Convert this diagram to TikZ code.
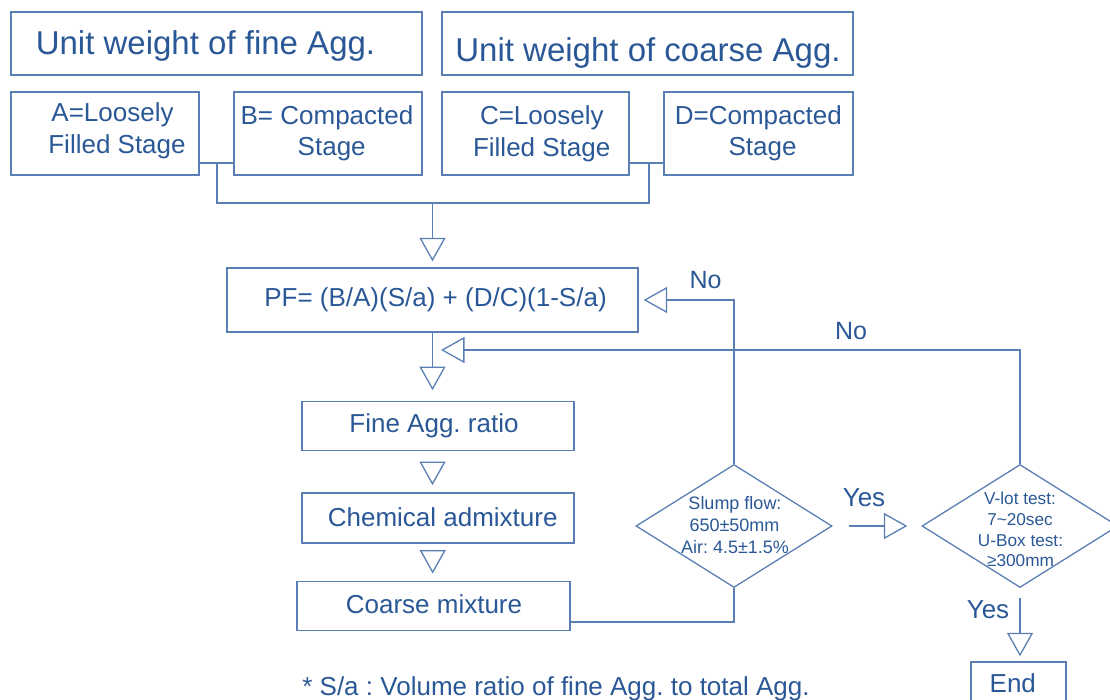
\documentclass[tikz,border=0pt]{standalone}
\usepackage{fontspec}
\setmainfont{Liberation Sans}
\usetikzlibrary{arrows.meta,shapes.geometric}
\definecolor{txtc}{HTML}{2A5896}
\definecolor{linec}{HTML}{5A7FB5}
\frenchspacing
\begin{document}
\begin{tikzpicture}[x=1pt,y=-1pt]
\tikzset{
  box/.style={draw=linec, line width=1.3pt, rectangle, inner sep=0pt},
  dia/.style={draw=linec, line width=1.3pt, diamond, inner sep=0pt, minimum width=196pt, minimum height=123pt},
  ln/.style={draw=linec, line width=1.3pt},
  tri/.style={draw=linec, line width=1.3pt, -{Triangle[open,width=26pt,length=23.5pt]}},
  lbl/.style={anchor=base, text=txtc, inner sep=0pt},
  fH/.style={font=\fontsize{33}{40}\selectfont},
  fM/.style={font=\fontsize{26}{31}\selectfont},
  fL/.style={font=\fontsize{25}{30}\selectfont},
  fS/.style={font=\fontsize{18}{21}\selectfont},
  fT/.style={font=\fontsize{17.2}{20}\selectfont},
}
\path[use as bounding box] (0,0) rectangle (1110,700);
\clip (0,0) rectangle (1110,700);

% header boxes
\node[box, minimum width=411pt, minimum height=63pt] (fineH) at (216.5,43.5) {};
\node[lbl,fH] (fineHt) at (205.5,55) {Unit weight of fine Agg.};
\node[box, minimum width=411pt, minimum height=63pt] (coarseH) at (647.5,43.5) {};
\node[lbl,fH] (coarseHt) at (648,61.5) {Unit weight of coarse Agg.};

% stage boxes
\node[box, minimum width=188pt, minimum height=83pt] (A) at (105,133.5) {};
\node[lbl,fM] (A1) at (112.5,122) {A=Loosely};
\node[lbl,fM] (A2) at (117,153.3) {Filled Stage};
\node[box, minimum width=188pt, minimum height=83pt] (B) at (328,133.5) {};
\node[lbl,fM] (B1) at (327,125) {B= Compacted};
\node[lbl,fM] (B2) at (331.7,156) {Stage};
\node[box, minimum width=187pt, minimum height=83pt] (C) at (535.5,133.5) {};
\node[lbl,fM] (C1) at (541.8,125) {C=Loosely};
\node[lbl,fM] (C2) at (541.7,156.5) {Filled Stage};
\node[box, minimum width=189pt, minimum height=83pt] (D) at (758.5,133.5) {};
\node[lbl,fM] (D1) at (758.3,124.5) {D=Compacted};
\node[lbl,fM] (D2) at (762.5,156) {Stage};

% process boxes
\node[box, minimum width=411pt, minimum height=64pt] (PF) at (432.5,300) {};
\node[lbl,fM] (PFt) at (435.5,307) {PF= (B/A)(S/a) + (D/C)(1-S/a)};
\node[box, minimum width=272pt, minimum height=49pt] (Fine) at (438,426) {};
\node[lbl,fM] (Finet) at (434,432) {Fine Agg. ratio};
\node[box, minimum width=272pt, minimum height=50pt] (Chem) at (438,518) {};
\node[lbl,fM] (Chemt) at (442.7,526.7) {Chemical admixture};
\node[box, minimum width=273pt, minimum height=49pt] (Coarse) at (433.5,606) {};
\node[lbl,fM] (Coarset) at (434,613.3) {Coarse mixture};

% decisions
\node[dia] (S) at (734,526) {};
\node[lbl,fS] (S1) at (735,509) {Slump flow:};
\node[lbl,fS] (S2) at (734.5,531.7) {650±50mm};
\node[lbl,fS] (S3) at (735,553.3) {Air: 4.5±1.5\%};
\node[dia] (V) at (1020,526) {};
\node[lbl,fT] (V1) at (1020,504.3) {V-lot test:};
\node[lbl,fT] (V2) at (1020,525) {7\textasciitilde 20sec};
\node[lbl,fT] (V3) at (1020.5,546) {U-Box test:};
\node[lbl,fT] (V4) at (1020.5,566.7) {≥300mm};

% end
\node[box, minimum width=95pt, minimum height=42pt] (End) at (1018.5,683) {};
\node[lbl,fM] (Endt) at (1012.8,692.7) {End};

% connectors
\coordinate (ab) at (217,163);
\coordinate (cd) at (649,163);
\coordinate (jL) at (217,203);
\coordinate (jR) at (649,203);
\coordinate (jM) at (432.5,203);
\draw[ln] (A.east |- ab) -- (B.west |- ab);
\draw[ln] (C.east |- cd) -- (D.west |- cd);
\draw[ln] (ab) -- (jL) -- (jR) -- (cd);
\draw[tri] (jM) -- ([yshift=6pt]PF.north);

\draw[tri, shorten >=10.7pt] (PF.south) -- (PF.south |- Fine.north);
\draw[tri, shorten <=12pt, shorten >=7.2pt] ([xshift=-5.5pt]Fine.south) -- ([xshift=-5.5pt]Chem.north);
\draw[tri, shorten <=7.7pt, shorten >=7.3pt] ([xshift=-5.3pt]Chem.south) -- ([xshift=-5.3pt]Chem.south |- Coarse.north);

\coordinate (cs) at (734,622);
\draw[ln] (Coarse.east |- cs) -- (cs) -- (S.south);

\draw[tri, shorten >=5pt] (S.north) |- (PF.east);
\coordinate (r2) at (1020,350);
\draw[tri, shorten >=8.5pt] (V.north) -- (r2) -- (PF.south |- r2);

\draw[tri, shorten <=16pt, shorten >=14pt] (S.east) -- (V.west);
\draw[tri, shorten <=10pt, shorten >=5pt] (V.south) -- (V.south |- End.north);

% labels
\node[lbl,fL] (no1) at (705.5,288.3) {No};
\node[lbl,fL] (no2) at (851,339.3) {No};
\node[lbl,fM] (yes1) at (864,506.7) {Yes};
\node[lbl,fM] (yes2) at (988,618.3) {Yes};

% footnote
\node[lbl,fM] (note) at (556,695) {* S/a : Volume ratio of fine Agg. to total Agg.};
\end{tikzpicture}
\end{document}
